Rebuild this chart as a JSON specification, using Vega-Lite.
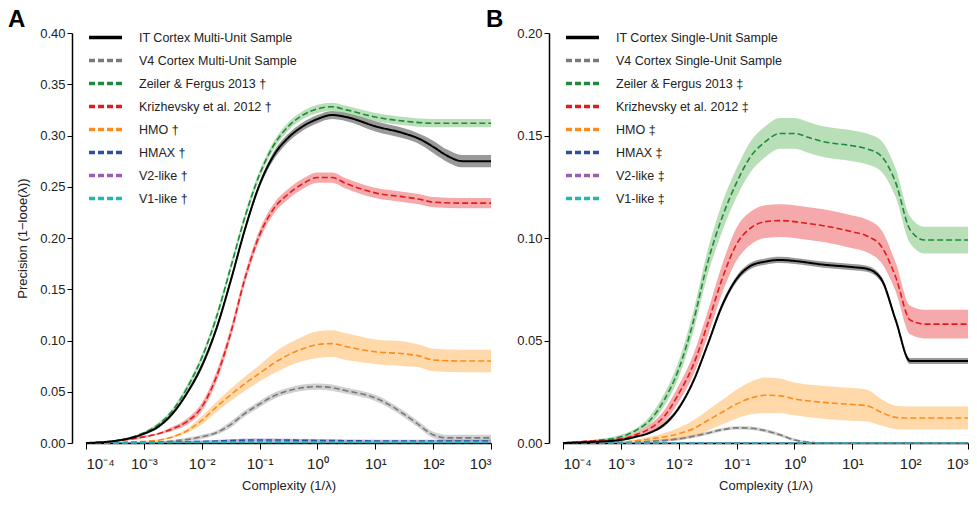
{
"$schema": "https://vega.github.io/schema/vega-lite/v6.json",
"padding": {"left": 8, "top": 8, "right": 8, "bottom": 6},
"bounds": "flush",
"config": {
  "view": {"stroke": null},
  "font": "Liberation Sans",
  "concat": {"spacing": 72},
  "axis": {"grid": false, "domainColor": "#000", "domainWidth": 1.5, "tickColor": "#000", "tickWidth": 1, "labelColor": "#222", "titleColor": "#222", "labelFontSize": 13, "titleFontSize": 13, "titleFontWeight": "normal"},
  "legend": {"labelFontSize": 12.5, "labelColor": "#222", "symbolStrokeWidth": 3.5, "symbolSize": 121, "symbolType": "M-1,0H5", "labelOffset": 37, "rowPadding": 8, "labelLimit": 300}
},
"datasets": {
"a": [
{"s":"IT Cortex Multi-Unit Sample","x":0.0001,"y":0,"lo":0,"hi":0.0005},
{"s":"IT Cortex Multi-Unit Sample","x":0.000316,"y":0.002,"lo":0.001,"hi":0.003},
{"s":"IT Cortex Multi-Unit Sample","x":0.001,"y":0.009,"lo":0.008,"hi":0.01},
{"s":"IT Cortex Multi-Unit Sample","x":0.00178,"y":0.016,"lo":0.0145,"hi":0.0175},
{"s":"IT Cortex Multi-Unit Sample","x":0.00316,"y":0.029,"lo":0.027,"hi":0.031},
{"s":"IT Cortex Multi-Unit Sample","x":0.00562,"y":0.049,"lo":0.047,"hi":0.051},
{"s":"IT Cortex Multi-Unit Sample","x":0.01,"y":0.075,"lo":0.072,"hi":0.078},
{"s":"IT Cortex Multi-Unit Sample","x":0.0178,"y":0.111,"lo":0.108,"hi":0.114},
{"s":"IT Cortex Multi-Unit Sample","x":0.0316,"y":0.158,"lo":0.155,"hi":0.161},
{"s":"IT Cortex Multi-Unit Sample","x":0.0562,"y":0.209,"lo":0.206,"hi":0.212},
{"s":"IT Cortex Multi-Unit Sample","x":0.1,"y":0.252,"lo":0.249,"hi":0.255},
{"s":"IT Cortex Multi-Unit Sample","x":0.178,"y":0.281,"lo":0.277,"hi":0.285},
{"s":"IT Cortex Multi-Unit Sample","x":0.316,"y":0.298,"lo":0.294,"hi":0.302},
{"s":"IT Cortex Multi-Unit Sample","x":0.562,"y":0.309,"lo":0.305,"hi":0.313},
{"s":"IT Cortex Multi-Unit Sample","x":1,"y":0.316,"lo":0.312,"hi":0.32},
{"s":"IT Cortex Multi-Unit Sample","x":1.78,"y":0.32,"lo":0.316,"hi":0.324},
{"s":"IT Cortex Multi-Unit Sample","x":3.16,"y":0.318,"lo":0.314,"hi":0.322},
{"s":"IT Cortex Multi-Unit Sample","x":10,"y":0.309,"lo":0.304,"hi":0.314},
{"s":"IT Cortex Multi-Unit Sample","x":31.6,"y":0.302,"lo":0.297,"hi":0.307},
{"s":"IT Cortex Multi-Unit Sample","x":56.2,"y":0.297,"lo":0.292,"hi":0.302},
{"s":"IT Cortex Multi-Unit Sample","x":100,"y":0.289,"lo":0.283,"hi":0.295},
{"s":"IT Cortex Multi-Unit Sample","x":178,"y":0.28,"lo":0.274,"hi":0.286},
{"s":"IT Cortex Multi-Unit Sample","x":316,"y":0.275,"lo":0.269,"hi":0.281},
{"s":"IT Cortex Multi-Unit Sample","x":1000,"y":0.275,"lo":0.269,"hi":0.281},
{"s":"V4 Cortex Multi-Unit Sample","x":0.0001,"y":0,"lo":0,"hi":0.0005},
{"s":"V4 Cortex Multi-Unit Sample","x":0.001,"y":0.0005,"lo":0.0002,"hi":0.0008},
{"s":"V4 Cortex Multi-Unit Sample","x":0.00316,"y":0.002,"lo":0.001,"hi":0.003},
{"s":"V4 Cortex Multi-Unit Sample","x":0.01,"y":0.006,"lo":0.004,"hi":0.008},
{"s":"V4 Cortex Multi-Unit Sample","x":0.0178,"y":0.01,"lo":0.008,"hi":0.012},
{"s":"V4 Cortex Multi-Unit Sample","x":0.0316,"y":0.018,"lo":0.015,"hi":0.021},
{"s":"V4 Cortex Multi-Unit Sample","x":0.0562,"y":0.029,"lo":0.026,"hi":0.032},
{"s":"V4 Cortex Multi-Unit Sample","x":0.1,"y":0.038,"lo":0.035,"hi":0.041},
{"s":"V4 Cortex Multi-Unit Sample","x":0.178,"y":0.046,"lo":0.043,"hi":0.049},
{"s":"V4 Cortex Multi-Unit Sample","x":0.316,"y":0.051,"lo":0.048,"hi":0.054},
{"s":"V4 Cortex Multi-Unit Sample","x":0.562,"y":0.054,"lo":0.051,"hi":0.057},
{"s":"V4 Cortex Multi-Unit Sample","x":1,"y":0.055,"lo":0.052,"hi":0.058},
{"s":"V4 Cortex Multi-Unit Sample","x":1.78,"y":0.054,"lo":0.051,"hi":0.057},
{"s":"V4 Cortex Multi-Unit Sample","x":3.16,"y":0.051,"lo":0.048,"hi":0.054},
{"s":"V4 Cortex Multi-Unit Sample","x":10,"y":0.044,"lo":0.041,"hi":0.047},
{"s":"V4 Cortex Multi-Unit Sample","x":17.8,"y":0.037,"lo":0.034,"hi":0.04},
{"s":"V4 Cortex Multi-Unit Sample","x":31.6,"y":0.028,"lo":0.025,"hi":0.031},
{"s":"V4 Cortex Multi-Unit Sample","x":56.2,"y":0.018,"lo":0.015,"hi":0.021},
{"s":"V4 Cortex Multi-Unit Sample","x":100,"y":0.008,"lo":0.005,"hi":0.011},
{"s":"V4 Cortex Multi-Unit Sample","x":178,"y":0.005,"lo":0.002,"hi":0.008},
{"s":"V4 Cortex Multi-Unit Sample","x":1000,"y":0.005,"lo":0.002,"hi":0.008},
{"s":"Zeiler & Fergus 2013 †","x":0.0001,"y":0,"lo":0,"hi":0.0005},
{"s":"Zeiler & Fergus 2013 †","x":0.000316,"y":0.002,"lo":0.001,"hi":0.003},
{"s":"Zeiler & Fergus 2013 †","x":0.001,"y":0.01,"lo":0.009,"hi":0.011},
{"s":"Zeiler & Fergus 2013 †","x":0.00178,"y":0.018,"lo":0.016,"hi":0.02},
{"s":"Zeiler & Fergus 2013 †","x":0.00316,"y":0.032,"lo":0.03,"hi":0.034},
{"s":"Zeiler & Fergus 2013 †","x":0.00562,"y":0.054,"lo":0.051,"hi":0.057},
{"s":"Zeiler & Fergus 2013 †","x":0.01,"y":0.083,"lo":0.08,"hi":0.086},
{"s":"Zeiler & Fergus 2013 †","x":0.0178,"y":0.122,"lo":0.118,"hi":0.126},
{"s":"Zeiler & Fergus 2013 †","x":0.0316,"y":0.171,"lo":0.167,"hi":0.175},
{"s":"Zeiler & Fergus 2013 †","x":0.0562,"y":0.221,"lo":0.217,"hi":0.225},
{"s":"Zeiler & Fergus 2013 †","x":0.1,"y":0.262,"lo":0.258,"hi":0.266},
{"s":"Zeiler & Fergus 2013 †","x":0.178,"y":0.291,"lo":0.287,"hi":0.295},
{"s":"Zeiler & Fergus 2013 †","x":0.316,"y":0.309,"lo":0.305,"hi":0.313},
{"s":"Zeiler & Fergus 2013 †","x":0.562,"y":0.32,"lo":0.316,"hi":0.324},
{"s":"Zeiler & Fergus 2013 †","x":1,"y":0.326,"lo":0.322,"hi":0.33},
{"s":"Zeiler & Fergus 2013 †","x":1.78,"y":0.328,"lo":0.324,"hi":0.332},
{"s":"Zeiler & Fergus 2013 †","x":3.16,"y":0.325,"lo":0.321,"hi":0.329},
{"s":"Zeiler & Fergus 2013 †","x":10,"y":0.318,"lo":0.314,"hi":0.322},
{"s":"Zeiler & Fergus 2013 †","x":31.6,"y":0.314,"lo":0.31,"hi":0.318},
{"s":"Zeiler & Fergus 2013 †","x":100,"y":0.312,"lo":0.308,"hi":0.316},
{"s":"Zeiler & Fergus 2013 †","x":1000,"y":0.312,"lo":0.308,"hi":0.316},
{"s":"Krizhevsky et al. 2012 †","x":0.0001,"y":0,"lo":0,"hi":0.0005},
{"s":"Krizhevsky et al. 2012 †","x":0.000316,"y":0.002,"lo":0.0015,"hi":0.0025},
{"s":"Krizhevsky et al. 2012 †","x":0.001,"y":0.006,"lo":0.005,"hi":0.007},
{"s":"Krizhevsky et al. 2012 †","x":0.00178,"y":0.009,"lo":0.008,"hi":0.01},
{"s":"Krizhevsky et al. 2012 †","x":0.00316,"y":0.014,"lo":0.012,"hi":0.016},
{"s":"Krizhevsky et al. 2012 †","x":0.00562,"y":0.021,"lo":0.018,"hi":0.024},
{"s":"Krizhevsky et al. 2012 †","x":0.01,"y":0.035,"lo":0.031,"hi":0.039},
{"s":"Krizhevsky et al. 2012 †","x":0.0178,"y":0.064,"lo":0.059,"hi":0.069},
{"s":"Krizhevsky et al. 2012 †","x":0.0316,"y":0.107,"lo":0.102,"hi":0.112},
{"s":"Krizhevsky et al. 2012 †","x":0.0562,"y":0.161,"lo":0.156,"hi":0.166},
{"s":"Krizhevsky et al. 2012 †","x":0.1,"y":0.203,"lo":0.198,"hi":0.208},
{"s":"Krizhevsky et al. 2012 †","x":0.178,"y":0.229,"lo":0.224,"hi":0.234},
{"s":"Krizhevsky et al. 2012 †","x":0.316,"y":0.243,"lo":0.238,"hi":0.248},
{"s":"Krizhevsky et al. 2012 †","x":0.562,"y":0.253,"lo":0.248,"hi":0.258},
{"s":"Krizhevsky et al. 2012 †","x":1,"y":0.259,"lo":0.254,"hi":0.264},
{"s":"Krizhevsky et al. 2012 †","x":1.78,"y":0.259,"lo":0.254,"hi":0.264},
{"s":"Krizhevsky et al. 2012 †","x":3.16,"y":0.253,"lo":0.248,"hi":0.258},
{"s":"Krizhevsky et al. 2012 †","x":10,"y":0.244,"lo":0.239,"hi":0.249},
{"s":"Krizhevsky et al. 2012 †","x":31.6,"y":0.24,"lo":0.235,"hi":0.245},
{"s":"Krizhevsky et al. 2012 †","x":56.2,"y":0.238,"lo":0.233,"hi":0.243},
{"s":"Krizhevsky et al. 2012 †","x":100,"y":0.235,"lo":0.23,"hi":0.24},
{"s":"Krizhevsky et al. 2012 †","x":316,"y":0.234,"lo":0.229,"hi":0.239},
{"s":"Krizhevsky et al. 2012 †","x":1000,"y":0.234,"lo":0.229,"hi":0.239},
{"s":"HMO †","x":0.0001,"y":0,"lo":0,"hi":0.0005},
{"s":"HMO †","x":0.001,"y":0.0015,"lo":0.001,"hi":0.002},
{"s":"HMO †","x":0.00316,"y":0.006,"lo":0.005,"hi":0.007},
{"s":"HMO †","x":0.00562,"y":0.012,"lo":0.01,"hi":0.014},
{"s":"HMO †","x":0.01,"y":0.022,"lo":0.018,"hi":0.026},
{"s":"HMO †","x":0.0178,"y":0.035,"lo":0.03,"hi":0.04},
{"s":"HMO †","x":0.0316,"y":0.047,"lo":0.041,"hi":0.053},
{"s":"HMO †","x":0.0562,"y":0.058,"lo":0.051,"hi":0.065},
{"s":"HMO †","x":0.1,"y":0.068,"lo":0.06,"hi":0.076},
{"s":"HMO †","x":0.178,"y":0.078,"lo":0.068,"hi":0.088},
{"s":"HMO †","x":0.316,"y":0.086,"lo":0.075,"hi":0.097},
{"s":"HMO †","x":0.562,"y":0.092,"lo":0.08,"hi":0.104},
{"s":"HMO †","x":1,"y":0.096,"lo":0.083,"hi":0.109},
{"s":"HMO †","x":1.78,"y":0.097,"lo":0.084,"hi":0.11},
{"s":"HMO †","x":3.16,"y":0.094,"lo":0.081,"hi":0.107},
{"s":"HMO †","x":10,"y":0.089,"lo":0.077,"hi":0.101},
{"s":"HMO †","x":31.6,"y":0.087,"lo":0.075,"hi":0.099},
{"s":"HMO †","x":56.2,"y":0.085,"lo":0.074,"hi":0.096},
{"s":"HMO †","x":100,"y":0.081,"lo":0.07,"hi":0.092},
{"s":"HMO †","x":316,"y":0.08,"lo":0.069,"hi":0.091},
{"s":"HMO †","x":1000,"y":0.08,"lo":0.069,"hi":0.091},
{"s":"HMAX †","x":0.0001,"y":0,"lo":0,"hi":0.0005},
{"s":"HMAX †","x":0.001,"y":0.0005,"lo":0,"hi":0.001},
{"s":"HMAX †","x":0.01,"y":0.0015,"lo":0.0005,"hi":0.0025},
{"s":"HMAX †","x":0.1,"y":0.003,"lo":0.0015,"hi":0.0045},
{"s":"HMAX †","x":1,"y":0.0025,"lo":0.001,"hi":0.004},
{"s":"HMAX †","x":10,"y":0.002,"lo":0.0008,"hi":0.0032},
{"s":"HMAX †","x":100,"y":0.002,"lo":0.0008,"hi":0.0032},
{"s":"HMAX †","x":1000,"y":0.002,"lo":0.0008,"hi":0.0032},
{"s":"V2-like †","x":0.0001,"y":0,"lo":0,"hi":0.0005},
{"s":"V2-like †","x":0.01,"y":0.0008,"lo":0.0003,"hi":0.0013},
{"s":"V2-like †","x":1,"y":0.001,"lo":0.0005,"hi":0.0015},
{"s":"V2-like †","x":1000,"y":0.001,"lo":0.0005,"hi":0.0015},
{"s":"V1-like †","x":0.0001,"y":0,"lo":0,"hi":0.0005},
{"s":"V1-like †","x":0.01,"y":0.0005,"lo":0.0001,"hi":0.0009},
{"s":"V1-like †","x":1,"y":0.0006,"lo":0.0002,"hi":0.001},
{"s":"V1-like †","x":1000,"y":0.0006,"lo":0.0002,"hi":0.001}
],
"b": [
{"s":"IT Cortex Single-Unit Sample","x":0.0001,"y":0,"lo":0,"hi":0.0003},
{"s":"IT Cortex Single-Unit Sample","x":0.000316,"y":0.0005,"lo":0.0002,"hi":0.0008},
{"s":"IT Cortex Single-Unit Sample","x":0.001,"y":0.0015,"lo":0.001,"hi":0.002},
{"s":"IT Cortex Single-Unit Sample","x":0.00178,"y":0.003,"lo":0.0025,"hi":0.0035},
{"s":"IT Cortex Single-Unit Sample","x":0.00316,"y":0.005,"lo":0.0045,"hi":0.0055},
{"s":"IT Cortex Single-Unit Sample","x":0.00562,"y":0.009,"lo":0.008,"hi":0.01},
{"s":"IT Cortex Single-Unit Sample","x":0.01,"y":0.017,"lo":0.016,"hi":0.018},
{"s":"IT Cortex Single-Unit Sample","x":0.0178,"y":0.03,"lo":0.029,"hi":0.031},
{"s":"IT Cortex Single-Unit Sample","x":0.0316,"y":0.048,"lo":0.047,"hi":0.049},
{"s":"IT Cortex Single-Unit Sample","x":0.0562,"y":0.067,"lo":0.0655,"hi":0.0685},
{"s":"IT Cortex Single-Unit Sample","x":0.1,"y":0.08,"lo":0.0785,"hi":0.0815},
{"s":"IT Cortex Single-Unit Sample","x":0.178,"y":0.0865,"lo":0.085,"hi":0.088},
{"s":"IT Cortex Single-Unit Sample","x":0.316,"y":0.0885,"lo":0.087,"hi":0.09},
{"s":"IT Cortex Single-Unit Sample","x":0.562,"y":0.0893,"lo":0.0878,"hi":0.0908},
{"s":"IT Cortex Single-Unit Sample","x":1,"y":0.0888,"lo":0.0873,"hi":0.0903},
{"s":"IT Cortex Single-Unit Sample","x":3.16,"y":0.087,"lo":0.0855,"hi":0.0885},
{"s":"IT Cortex Single-Unit Sample","x":10,"y":0.0858,"lo":0.0843,"hi":0.0873},
{"s":"IT Cortex Single-Unit Sample","x":17.8,"y":0.085,"lo":0.0835,"hi":0.0865},
{"s":"IT Cortex Single-Unit Sample","x":31.6,"y":0.08,"lo":0.0785,"hi":0.0815},
{"s":"IT Cortex Single-Unit Sample","x":56.2,"y":0.06,"lo":0.0585,"hi":0.0615},
{"s":"IT Cortex Single-Unit Sample","x":100,"y":0.04,"lo":0.0385,"hi":0.0415},
{"s":"IT Cortex Single-Unit Sample","x":178,"y":0.04,"lo":0.0385,"hi":0.0415},
{"s":"IT Cortex Single-Unit Sample","x":1000,"y":0.04,"lo":0.0385,"hi":0.0415},
{"s":"V4 Cortex Single-Unit Sample","x":0.0001,"y":0,"lo":0,"hi":0.0003},
{"s":"V4 Cortex Single-Unit Sample","x":0.001,"y":0.0002,"lo":0,"hi":0.0005},
{"s":"V4 Cortex Single-Unit Sample","x":0.00316,"y":0.0008,"lo":0.0002,"hi":0.0014},
{"s":"V4 Cortex Single-Unit Sample","x":0.01,"y":0.002,"lo":0.0012,"hi":0.0028},
{"s":"V4 Cortex Single-Unit Sample","x":0.0316,"y":0.0048,"lo":0.004,"hi":0.0056},
{"s":"V4 Cortex Single-Unit Sample","x":0.0562,"y":0.0065,"lo":0.0057,"hi":0.0073},
{"s":"V4 Cortex Single-Unit Sample","x":0.1,"y":0.0074,"lo":0.0066,"hi":0.0082},
{"s":"V4 Cortex Single-Unit Sample","x":0.178,"y":0.0072,"lo":0.0064,"hi":0.008},
{"s":"V4 Cortex Single-Unit Sample","x":0.316,"y":0.006,"lo":0.0052,"hi":0.0068},
{"s":"V4 Cortex Single-Unit Sample","x":0.562,"y":0.004,"lo":0.0032,"hi":0.0048},
{"s":"V4 Cortex Single-Unit Sample","x":1,"y":0.0015,"lo":0.0008,"hi":0.0022},
{"s":"V4 Cortex Single-Unit Sample","x":1.78,"y":0.0004,"lo":0,"hi":0.0008},
{"s":"V4 Cortex Single-Unit Sample","x":3.16,"y":0,"lo":0,"hi":0.0003},
{"s":"V4 Cortex Single-Unit Sample","x":1000,"y":0,"lo":0,"hi":0.0003},
{"s":"Zeiler & Fergus 2013 ‡","x":0.0001,"y":0,"lo":0,"hi":0.0005},
{"s":"Zeiler & Fergus 2013 ‡","x":0.000316,"y":0.001,"lo":0.0005,"hi":0.0015},
{"s":"Zeiler & Fergus 2013 ‡","x":0.001,"y":0.003,"lo":0.002,"hi":0.004},
{"s":"Zeiler & Fergus 2013 ‡","x":0.00178,"y":0.006,"lo":0.005,"hi":0.007},
{"s":"Zeiler & Fergus 2013 ‡","x":0.00316,"y":0.011,"lo":0.009,"hi":0.013},
{"s":"Zeiler & Fergus 2013 ‡","x":0.00562,"y":0.021,"lo":0.018,"hi":0.024},
{"s":"Zeiler & Fergus 2013 ‡","x":0.01,"y":0.036,"lo":0.032,"hi":0.04},
{"s":"Zeiler & Fergus 2013 ‡","x":0.0178,"y":0.059,"lo":0.054,"hi":0.064},
{"s":"Zeiler & Fergus 2013 ‡","x":0.0316,"y":0.088,"lo":0.082,"hi":0.094},
{"s":"Zeiler & Fergus 2013 ‡","x":0.0562,"y":0.11,"lo":0.103,"hi":0.117},
{"s":"Zeiler & Fergus 2013 ‡","x":0.1,"y":0.127,"lo":0.12,"hi":0.134},
{"s":"Zeiler & Fergus 2013 ‡","x":0.178,"y":0.14,"lo":0.1325,"hi":0.1475},
{"s":"Zeiler & Fergus 2013 ‡","x":0.316,"y":0.147,"lo":0.1395,"hi":0.1545},
{"s":"Zeiler & Fergus 2013 ‡","x":0.562,"y":0.151,"lo":0.1435,"hi":0.1585},
{"s":"Zeiler & Fergus 2013 ‡","x":1,"y":0.151,"lo":0.1435,"hi":0.1585},
{"s":"Zeiler & Fergus 2013 ‡","x":1.78,"y":0.149,"lo":0.1415,"hi":0.1565},
{"s":"Zeiler & Fergus 2013 ‡","x":3.16,"y":0.147,"lo":0.1395,"hi":0.1545},
{"s":"Zeiler & Fergus 2013 ‡","x":10,"y":0.145,"lo":0.1375,"hi":0.1525},
{"s":"Zeiler & Fergus 2013 ‡","x":17.8,"y":0.1435,"lo":0.136,"hi":0.151},
{"s":"Zeiler & Fergus 2013 ‡","x":31.6,"y":0.14,"lo":0.1325,"hi":0.1475},
{"s":"Zeiler & Fergus 2013 ‡","x":56.2,"y":0.127,"lo":0.12,"hi":0.134},
{"s":"Zeiler & Fergus 2013 ‡","x":100,"y":0.104,"lo":0.0975,"hi":0.1105},
{"s":"Zeiler & Fergus 2013 ‡","x":178,"y":0.099,"lo":0.0925,"hi":0.1055},
{"s":"Zeiler & Fergus 2013 ‡","x":1000,"y":0.099,"lo":0.0925,"hi":0.1055},
{"s":"Krizhevsky et al. 2012 ‡","x":0.0001,"y":0,"lo":0,"hi":0.0005},
{"s":"Krizhevsky et al. 2012 ‡","x":0.000316,"y":0.001,"lo":0.0005,"hi":0.0015},
{"s":"Krizhevsky et al. 2012 ‡","x":0.001,"y":0.002,"lo":0.0015,"hi":0.0025},
{"s":"Krizhevsky et al. 2012 ‡","x":0.00178,"y":0.004,"lo":0.003,"hi":0.005},
{"s":"Krizhevsky et al. 2012 ‡","x":0.00316,"y":0.007,"lo":0.005,"hi":0.009},
{"s":"Krizhevsky et al. 2012 ‡","x":0.00562,"y":0.013,"lo":0.01,"hi":0.016},
{"s":"Krizhevsky et al. 2012 ‡","x":0.01,"y":0.024,"lo":0.02,"hi":0.028},
{"s":"Krizhevsky et al. 2012 ‡","x":0.0178,"y":0.038,"lo":0.033,"hi":0.043},
{"s":"Krizhevsky et al. 2012 ‡","x":0.0316,"y":0.058,"lo":0.052,"hi":0.064},
{"s":"Krizhevsky et al. 2012 ‡","x":0.0562,"y":0.08,"lo":0.073,"hi":0.087},
{"s":"Krizhevsky et al. 2012 ‡","x":0.1,"y":0.097,"lo":0.089,"hi":0.105},
{"s":"Krizhevsky et al. 2012 ‡","x":0.178,"y":0.105,"lo":0.097,"hi":0.113},
{"s":"Krizhevsky et al. 2012 ‡","x":0.316,"y":0.108,"lo":0.1,"hi":0.116},
{"s":"Krizhevsky et al. 2012 ‡","x":0.562,"y":0.1085,"lo":0.1005,"hi":0.1165},
{"s":"Krizhevsky et al. 2012 ‡","x":1,"y":0.108,"lo":0.1,"hi":0.116},
{"s":"Krizhevsky et al. 2012 ‡","x":1.78,"y":0.107,"lo":0.099,"hi":0.115},
{"s":"Krizhevsky et al. 2012 ‡","x":3.16,"y":0.106,"lo":0.098,"hi":0.114},
{"s":"Krizhevsky et al. 2012 ‡","x":10,"y":0.103,"lo":0.095,"hi":0.111},
{"s":"Krizhevsky et al. 2012 ‡","x":17.8,"y":0.101,"lo":0.093,"hi":0.109},
{"s":"Krizhevsky et al. 2012 ‡","x":31.6,"y":0.096,"lo":0.088,"hi":0.104},
{"s":"Krizhevsky et al. 2012 ‡","x":56.2,"y":0.081,"lo":0.074,"hi":0.088},
{"s":"Krizhevsky et al. 2012 ‡","x":100,"y":0.06,"lo":0.053,"hi":0.067},
{"s":"Krizhevsky et al. 2012 ‡","x":178,"y":0.058,"lo":0.051,"hi":0.065},
{"s":"Krizhevsky et al. 2012 ‡","x":1000,"y":0.058,"lo":0.051,"hi":0.065},
{"s":"HMO ‡","x":0.0001,"y":0,"lo":0,"hi":0.0003},
{"s":"HMO ‡","x":0.001,"y":0.0005,"lo":0.0002,"hi":0.0008},
{"s":"HMO ‡","x":0.00316,"y":0.002,"lo":0.001,"hi":0.003},
{"s":"HMO ‡","x":0.01,"y":0.0045,"lo":0.0015,"hi":0.0075},
{"s":"HMO ‡","x":0.0178,"y":0.007,"lo":0.003,"hi":0.011},
{"s":"HMO ‡","x":0.0316,"y":0.011,"lo":0.006,"hi":0.016},
{"s":"HMO ‡","x":0.0562,"y":0.015,"lo":0.009,"hi":0.021},
{"s":"HMO ‡","x":0.1,"y":0.019,"lo":0.012,"hi":0.026},
{"s":"HMO ‡","x":0.178,"y":0.022,"lo":0.014,"hi":0.03},
{"s":"HMO ‡","x":0.316,"y":0.0233,"lo":0.0145,"hi":0.032},
{"s":"HMO ‡","x":0.562,"y":0.023,"lo":0.0145,"hi":0.0315},
{"s":"HMO ‡","x":1,"y":0.0215,"lo":0.0135,"hi":0.0295},
{"s":"HMO ‡","x":3.16,"y":0.0198,"lo":0.0118,"hi":0.0278},
{"s":"HMO ‡","x":10,"y":0.0188,"lo":0.0108,"hi":0.0268},
{"s":"HMO ‡","x":17.8,"y":0.0182,"lo":0.0105,"hi":0.026},
{"s":"HMO ‡","x":31.6,"y":0.015,"lo":0.0085,"hi":0.0215},
{"s":"HMO ‡","x":56.2,"y":0.0125,"lo":0.0068,"hi":0.0182},
{"s":"HMO ‡","x":100,"y":0.0122,"lo":0.0066,"hi":0.0178},
{"s":"HMO ‡","x":1000,"y":0.0122,"lo":0.0066,"hi":0.0178},
{"s":"HMAX ‡","x":0.0001,"y":0,"lo":0,"hi":0.0003},
{"s":"HMAX ‡","x":1000,"y":0,"lo":0,"hi":0.0003},
{"s":"V2-like ‡","x":0.0001,"y":0,"lo":0,"hi":0.0003},
{"s":"V2-like ‡","x":1000,"y":0,"lo":0,"hi":0.0003},
{"s":"V1-like ‡","x":0.0001,"y":0,"lo":0,"hi":0.0003},
{"s":"V1-like ‡","x":1000,"y":0,"lo":0,"hi":0.0003}
]
},
"hconcat": [
{
  "title": {"text": "A", "anchor": "start", "frame": "group", "dx": -78, "fontSize": 24, "fontWeight": "bold", "offset": -5, "color": "#000"},
  "width": 405, "height": 410,
  "data": {"name": "a"},
  "encoding": {
    "x": {"field": "x", "type": "quantitative", "scale": {"type": "log", "domain": [0.0001, 1000]},
          "axis": {"title": "Complexity (1/λ)", "values": [0.0001, 0.001, 0.01, 0.1, 1, 10, 100, 1000], "tickSize": 6, "labelPadding": 7, "titlePadding": 8, "labelFontSize": 15,
                   "labelExpr": "datum.value < 0.0005 ? '10⁻⁴' : datum.value < 0.005 ? '10⁻³' : datum.value < 0.05 ? '10⁻²' : datum.value < 0.5 ? '10⁻¹' : datum.value < 5 ? '10⁰' : datum.value < 50 ? '10¹' : datum.value < 500 ? '10²' : '10³'"}}
  },
  "layer": [
    {"mark": {"type": "area", "opacity": 0.4, "interpolate": "monotone"},
     "encoding": {
       "y": {"field": "lo", "type": "quantitative", "scale": {"domain": [0, 0.4]},
             "axis": {"title": "Precision (1−looe(λ))", "values": [0, 0.05, 0.1, 0.15, 0.2, 0.25, 0.3, 0.35, 0.4], "format": ".2f", "offset": 14, "tickSize": 5, "titlePadding": 10}},
       "y2": {"field": "hi"},
       "fill": {"field": "s", "type": "nominal", "scale": {"domain": ["V1-like †","V2-like †","HMAX †","HMO †","Krizhevsky et al. 2012 †","Zeiler & Fergus 2013 †","V4 Cortex Multi-Unit Sample","IT Cortex Multi-Unit Sample"], "range": ["#20b8b0","#9e5bb5","#3050b0","#ff9f2a","#e8282a","#4daf4a","#8a8a8a","#000000"]}, "legend": null}
     }},
    {"transform": [{"filter": "datum.s != 'IT Cortex Multi-Unit Sample'"}],
     "mark": {"type": "line", "interpolate": "monotone", "strokeWidth": 1.6},
     "encoding": {
       "y": {"field": "y", "type": "quantitative"},
       "color": {"field": "s", "type": "nominal", "scale": {"domain": ["IT Cortex Multi-Unit Sample","V4 Cortex Multi-Unit Sample","Zeiler & Fergus 2013 †","Krizhevsky et al. 2012 †","HMO †","HMAX †","V2-like †","V1-like †"], "range": ["#000000","#7a7a7a","#1e8a3e","#e41a1c","#ff8c1a","#2b4ea2","#9e5bb5","#20b8b0"]},
                 "legend": {"title": null, "orient": "none", "legendX": 1, "legendY": -3}},
       "strokeDash": {"field": "s", "type": "nominal", "scale": {"domain": ["IT Cortex Multi-Unit Sample","V4 Cortex Multi-Unit Sample","Zeiler & Fergus 2013 †","Krizhevsky et al. 2012 †","HMO †","HMAX †","V2-like †","V1-like †"], "range": [[1,0],[6,3],[6,3],[6,3],[6,3],[6,3],[6,3],[6,3]]},
                 "legend": {"title": null, "orient": "none", "legendX": 1, "legendY": -3}}
     }},
    {"transform": [{"filter": "datum.s == 'IT Cortex Multi-Unit Sample'"}],
     "mark": {"type": "line", "interpolate": "monotone", "strokeWidth": 2},
     "encoding": {
       "y": {"field": "y", "type": "quantitative"},
       "color": {"field": "s", "type": "nominal"},
       "strokeDash": {"field": "s", "type": "nominal"}
     }}
  ]
},
{
  "title": {"text": "B", "anchor": "start", "frame": "group", "dx": -77, "fontSize": 24, "fontWeight": "bold", "offset": -5, "color": "#000"},
  "width": 405, "height": 410,
  "data": {"name": "b"},
  "encoding": {
    "x": {"field": "x", "type": "quantitative", "scale": {"type": "log", "domain": [0.0001, 1000]},
          "axis": {"title": "Complexity (1/λ)", "values": [0.0001, 0.001, 0.01, 0.1, 1, 10, 100, 1000], "tickSize": 6, "labelPadding": 7, "titlePadding": 8, "labelFontSize": 15,
                   "labelExpr": "datum.value < 0.0005 ? '10⁻⁴' : datum.value < 0.005 ? '10⁻³' : datum.value < 0.05 ? '10⁻²' : datum.value < 0.5 ? '10⁻¹' : datum.value < 5 ? '10⁰' : datum.value < 50 ? '10¹' : datum.value < 500 ? '10²' : '10³'"}}
  },
  "layer": [
    {"mark": {"type": "area", "opacity": 0.4, "interpolate": "monotone"},
     "encoding": {
       "y": {"field": "lo", "type": "quantitative", "scale": {"domain": [0, 0.2]},
             "axis": {"title": null, "values": [0, 0.05, 0.1, 0.15, 0.2], "format": ".2f", "offset": 14, "tickSize": 5}},
       "y2": {"field": "hi"},
       "fill": {"field": "s", "type": "nominal", "scale": {"domain": ["V1-like ‡","V2-like ‡","HMAX ‡","HMO ‡","Krizhevsky et al. 2012 ‡","Zeiler & Fergus 2013 ‡","V4 Cortex Single-Unit Sample","IT Cortex Single-Unit Sample"], "range": ["#20b8b0","#9e5bb5","#3050b0","#ff9f2a","#e8282a","#4daf4a","#8a8a8a","#000000"]}, "legend": null}
     }},
    {"transform": [{"filter": "datum.s != 'IT Cortex Single-Unit Sample'"}],
     "mark": {"type": "line", "interpolate": "monotone", "strokeWidth": 1.6},
     "encoding": {
       "y": {"field": "y", "type": "quantitative"},
       "color": {"field": "s", "type": "nominal", "scale": {"domain": ["IT Cortex Single-Unit Sample","V4 Cortex Single-Unit Sample","Zeiler & Fergus 2013 ‡","Krizhevsky et al. 2012 ‡","HMO ‡","HMAX ‡","V2-like ‡","V1-like ‡"], "range": ["#000000","#7a7a7a","#1e8a3e","#e41a1c","#ff8c1a","#2b4ea2","#9e5bb5","#20b8b0"]},
                 "legend": {"title": null, "orient": "none", "legendX": 1, "legendY": -3}},
       "strokeDash": {"field": "s", "type": "nominal", "scale": {"domain": ["IT Cortex Single-Unit Sample","V4 Cortex Single-Unit Sample","Zeiler & Fergus 2013 ‡","Krizhevsky et al. 2012 ‡","HMO ‡","HMAX ‡","V2-like ‡","V1-like ‡"], "range": [[1,0],[6,3],[6,3],[6,3],[6,3],[6,3],[6,3],[6,3]]},
                 "legend": {"title": null, "orient": "none", "legendX": 1, "legendY": -3}}
     }},
    {"transform": [{"filter": "datum.s == 'IT Cortex Single-Unit Sample'"}],
     "mark": {"type": "line", "interpolate": "monotone", "strokeWidth": 2},
     "encoding": {
       "y": {"field": "y", "type": "quantitative"},
       "color": {"field": "s", "type": "nominal"},
       "strokeDash": {"field": "s", "type": "nominal"}
     }}
  ]
}
],
"resolve": {
  "scale": {"x": "independent", "y": "independent", "color": "independent", "fill": "independent", "strokeDash": "independent"}
}
}
